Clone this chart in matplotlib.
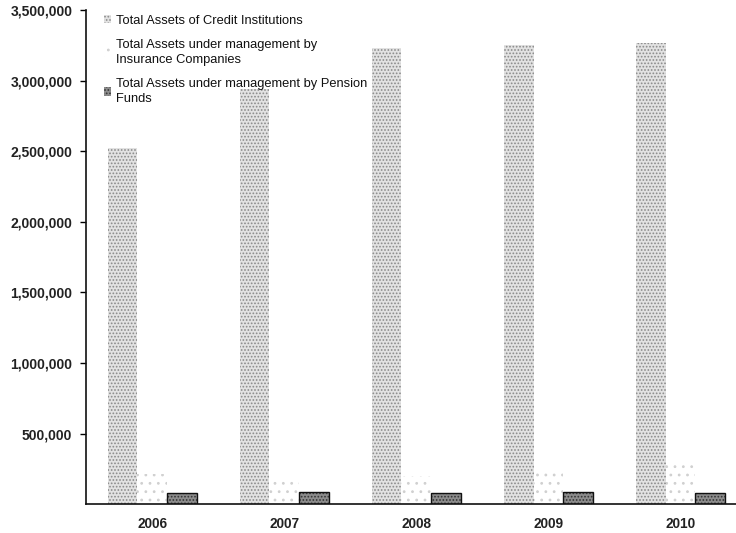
import matplotlib
matplotlib.use("Agg")
import matplotlib.pyplot as plt
import numpy as np
from matplotlib.ticker import FuncFormatter

plt.rcParams['font.family'] = ['Liberation Sans', 'DejaVu Sans']
plt.rcParams['hatch.linewidth'] = 0.8

years = ["2006", "2007", "2008", "2009", "2010"]
credit_institutions = [2520000, 2940000, 3230000, 3250000, 3265000]
insurance_companies = [215000, 175000, 200000, 250000, 280000]
pension_funds = [78000, 85000, 78000, 85000, 82000]
series_labels = [
    "Total Assets of Credit Institutions",
    "Total Assets under management by\nInsurance Companies",
    "Total Assets under management by Pension\nFunds",
]
y_ticks = [500000, 1000000, 1500000, 2000000, 2500000, 3000000, 3500000]

fig = plt.figure(figsize=(7.36, 5.33), dpi=100)
ax = fig.add_axes([0.117, 0.054, 0.883, 0.927])

x = np.arange(len(years))
w = 0.225

b1 = ax.bar(x - w, credit_institutions, w, facecolor='#e2e2e2',
            edgecolor='#8a8a8a', linewidth=0, hatch='.....',
            label=series_labels[0])
b2 = ax.bar(x, insurance_companies, w, facecolor='white',
            edgecolor='#d0d0d0', linewidth=0, hatch='..',
            label=series_labels[1])
b3 = ax.bar(x + w, pension_funds, w, facecolor='#8c8c8c',
            edgecolor='#333333', linewidth=0, hatch='.....',
            label=series_labels[2])
for r in b3:
    ax.add_patch(plt.Rectangle(r.get_xy(), r.get_width(), r.get_height(),
                               fill=False, edgecolor='#111111', linewidth=1.0))

ax.set_xlim(-0.5, 4.42)
ax.set_ylim(0, 3500000)
ax.set_yticks(y_ticks)
ax.yaxis.set_major_formatter(FuncFormatter(lambda v, p: f"{int(v):,}"))
ax.set_xticks(x)
ax.set_xticklabels(years)

for s in ['top', 'right']:
    ax.spines[s].set_visible(False)
ax.spines['left'].set_linewidth(1.2)
ax.spines['bottom'].set_linewidth(1.2)
ax.spines['left'].set_color('#111111')
ax.spines['bottom'].set_color('#111111')

ax.tick_params(axis='y', direction='out', length=4, width=1, pad=6,
               labelsize=10, labelcolor='#222222')
ax.tick_params(axis='x', length=0, pad=9, labelsize=9.8, labelcolor='#222222')
for lab in ax.get_yticklabels() + ax.get_xticklabels():
    lab.set_fontweight('bold')

leg = ax.legend(loc='upper left', bbox_to_anchor=(0.015, 1.006), frameon=False,
                fontsize=9.3, handlelength=0.6, handleheight=0.6,
                handletextpad=0.35, labelspacing=0.95, borderaxespad=0.2)
for t in leg.get_texts():
    t.set_color('#111111')
    t.set_linespacing(1.3)

fig.savefig("out.png", dpi=100)
